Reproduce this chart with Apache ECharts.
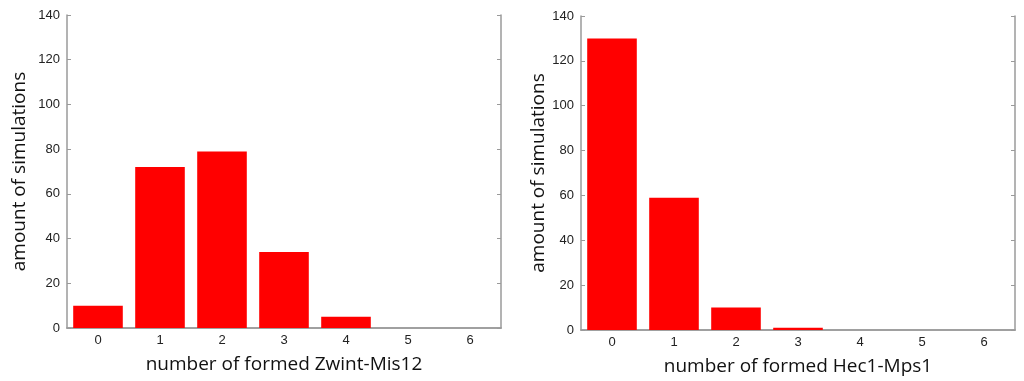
<!DOCTYPE html>
<html>
<head>
<meta charset="utf-8">
<script src="https://cdn.jsdelivr.net/npm/echarts@6/dist/echarts.min.js"></script>
<style>
  html,body{margin:0;padding:0;background:#fff;}
  #chart{width:1024px;height:381px;}
</style>
</head>
<body>
<div id="chart"></div>
<script>
  // counts per outcome
  var categories = ['0','1','2','3','4','5','6'];
  var zwintMis12 = [10, 72, 79, 34, 5, 0, 0];
  var hec1Mps1 = [130, 59, 10, 1, 0, 0, 0];
  var yName = 'amount of simulations';
  var xNames = ['number of formed Zwint-Mis12', 'number of formed Hec1-Mps1'];

  var axisGray = '#9a9a9a';
  var labelFont = {color:'#222', fontSize:13, fontFamily:'Liberation Sans'};
  var nameFont = {color:'#111', fontSize:19, fontFamily:'Open Sans'};

  var grids = [
    {left:67, top:15, width:434, height:313},
    {left:581, top:16, width:434, height:314}
  ];
  var yNameGaps = [38, 27];

  var xAxes = [], yAxes = [], series = [];
  [zwintMis12, hec1Mps1].forEach(function(vals, i){
    // bottom axis with labels
    xAxes.push({
      type:'category', gridIndex:i, position:'bottom', data:categories,
      name:xNames[i], nameLocation:'middle', nameGap:27, nameTextStyle:nameFont,
      axisLine:{lineStyle:{color:axisGray, width:1.5}},
      axisTick:{inside:true, alignWithLabel:true, length:4, lineStyle:{color:axisGray}},
      axisLabel:Object.assign({margin:6}, labelFont)
    });
    // top mirror
    xAxes.push({
      type:'category', gridIndex:i, position:'top', data:categories,
      axisLine:{lineStyle:{color:axisGray, width:1.5}},
      axisTick:{inside:true, alignWithLabel:true, length:4, lineStyle:{color:axisGray}},
      axisLabel:{show:false}
    });
    yAxes.push({
      type:'value', gridIndex:i, position:'left', min:0, max:140, interval:20,
      name:yName, nameLocation:'middle', nameGap:yNameGaps[i], nameTextStyle:nameFont,
      axisLine:{show:true, lineStyle:{color:axisGray, width:1.5}},
      axisTick:{show:true, inside:true, length:4, lineStyle:{color:axisGray}},
      axisLabel:Object.assign({margin:7}, labelFont),
      splitLine:{show:false}
    });
    yAxes.push({
      type:'value', gridIndex:i, position:'right', min:0, max:140, interval:20,
      axisLine:{show:true, lineStyle:{color:axisGray, width:1.5}},
      axisTick:{show:true, inside:true, length:4, lineStyle:{color:axisGray}},
      axisLabel:{show:false},
      splitLine:{show:false}
    });
    series.push({
      type:'bar', xAxisIndex:i*2, yAxisIndex:i*2, data:vals,
      barWidth:'80%', itemStyle:{color:'#ff0000'}, silent:true
    });
  });

  var chart = echarts.init(document.getElementById('chart'));
  chart.setOption({
    animation:false,
    grid:grids,
    xAxis:xAxes,
    yAxis:yAxes,
    series:series
  });
</script>
</body>
</html>
